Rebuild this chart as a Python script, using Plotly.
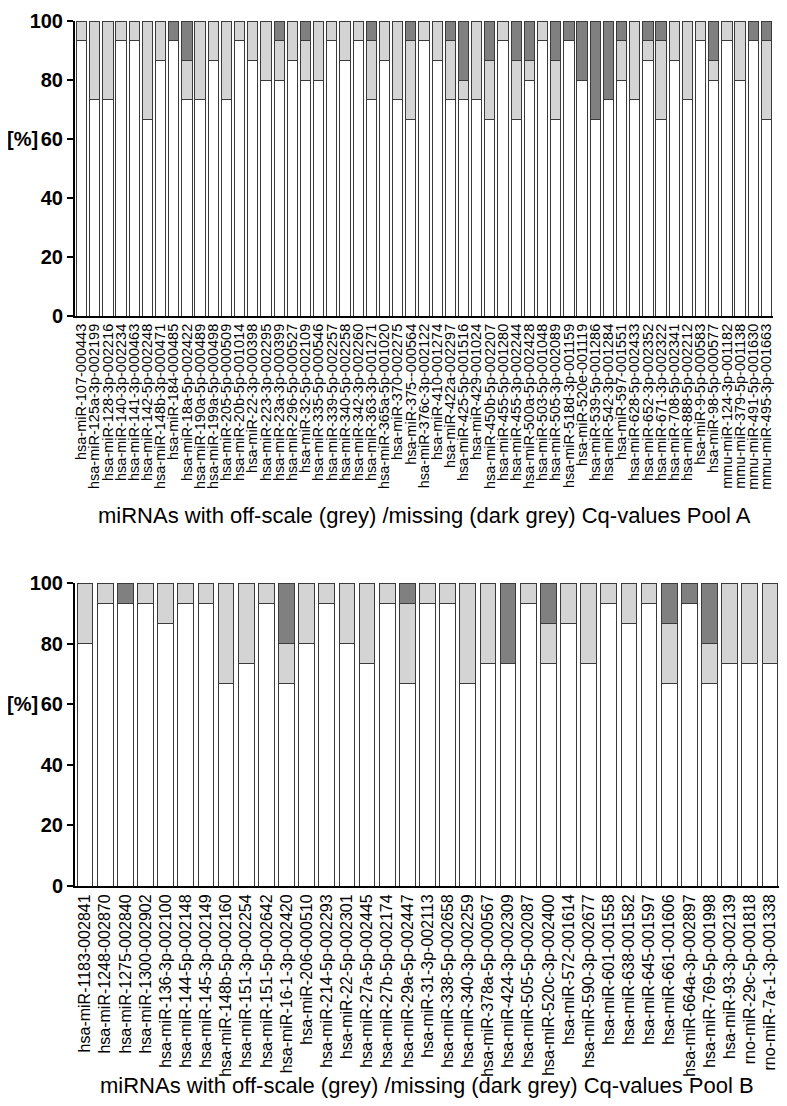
import plotly.graph_objects as go

# ---------------- Pool A ----------------
pool_a_labels = [
    "hsa-miR-107-000443", "hsa-miR-125a-3p-002199", "hsa-miR-128-3p-002216", "hsa-miR-140-3p-002234",
    "hsa-miR-141-3p-000463", "hsa-miR-142-5p-002248", "hsa-miR-148b-3p-000471", "hsa-miR-184-000485",
    "hsa-miR-18a-5p-002422", "hsa-miR-190a-5p-000489", "hsa-miR-199a-5p-000498", "hsa-miR-205-5p-000509",
    "hsa-miR-20b-5p-001014", "hsa-miR-22-3p-000398", "hsa-miR-223-3p-002295", "hsa-miR-23a-3p-000399",
    "hsa-miR-296-5p-000527", "hsa-miR-32-5p-002109", "hsa-miR-335-5p-000546", "hsa-miR-339-5p-002257",
    "hsa-miR-340-5p-002258", "hsa-miR-342-3p-002260", "hsa-miR-363-3p-001271", "hsa-miR-365a-5p-001020",
    "hsa-miR-370-002275", "hsa-miR-375--000564", "hsa-miR-376c-3p-002122", "hsa-miR-410-001274",
    "hsa-miR-422a-002297", "hsa-miR-425-5p-001516", "hsa-miR-429-001024", "hsa-miR-450b-5p-002207",
    "hsa-miR-455-5p-001280", "hsa-miR-455-3p-002244", "hsa-miR-500a-5p-002428", "hsa-miR-503-5p-001048",
    "hsa-miR-505-3p-002089", "hsa-miR-518d-3p-001159", "hsa-miR-520e-001119", "hsa-miR-539-5p-001286",
    "hsa-miR-542-3p-001284", "hsa-miR-597-001551", "hsa-miR-628-5p-002433", "hsa-miR-652-3p-002352",
    "hsa-miR-671-3p-002322", "hsa-miR-708-5p-002341", "hsa-miR-888-5p-002212", "hsa-miR-9-5p-000583",
    "hsa-miR-98-5p-000577", "mmu-miR-124-3p-001182", "mmu-miR-379-5p-001138", "mmu-miR-491-5p-001630",
    "mmu-miR-495-3p-001663",
]
pool_a_valid = [93.3, 73.3, 73.3, 93.3, 93.3, 66.7, 86.7, 93.3, 73.3, 73.3, 86.7, 73.3, 93.3, 86.7,
                80.0, 80.0, 86.7, 80.0, 80.0, 93.3, 86.7, 93.3, 73.3, 86.7, 73.3, 66.7, 93.3, 86.7,
                73.3, 73.3, 73.3, 66.7, 93.3, 66.7, 80.0, 93.3, 66.7, 93.3, 80.0, 66.7, 73.3, 80.0,
                73.3, 86.7, 66.7, 86.7, 73.3, 93.3, 80.0, 93.3, 80.0, 93.3, 66.7]
pool_a_offscale = [6.7, 26.7, 26.7, 6.7, 6.7, 33.3, 13.3, 0.0, 13.4, 26.7, 13.3, 26.7, 6.7, 13.3,
                   20.0, 13.3, 13.3, 13.3, 20.0, 6.7, 13.3, 6.7, 20.0, 13.3, 26.7, 26.6, 6.7, 13.3,
                   20.0, 6.7, 26.7, 20.0, 6.7, 20.0, 6.7, 6.7, 20.0, 0.0, 0.0, 0.0, 0.0, 13.3,
                   26.7, 6.6, 26.6, 13.3, 26.7, 6.7, 6.7, 6.7, 20.0, 0.0, 26.6]
pool_a_missing = [0.0, 0.0, 0.0, 0.0, 0.0, 0.0, 0.0, 6.7, 13.3, 0.0, 0.0, 0.0, 0.0, 0.0,
                  0.0, 6.7, 0.0, 6.7, 0.0, 0.0, 0.0, 0.0, 6.7, 0.0, 0.0, 6.7, 0.0, 0.0,
                  6.7, 20.0, 0.0, 13.3, 0.0, 13.3, 13.3, 0.0, 13.3, 6.7, 20.0, 33.3, 26.7, 6.7,
                  0.0, 6.7, 6.7, 0.0, 0.0, 0.0, 13.3, 0.0, 0.0, 6.7, 6.7]

# ---------------- Pool B ----------------
pool_b_labels = [
    "hsa-miR-1183-002841", "hsa-miR-1248-002870", "hsa-miR-1275-002840", "hsa-miR-1300-002902",
    "hsa-miR-136-3p-002100", "hsa-miR-144-5p-002148", "hsa-miR-145-3p-002149", "hsa-miR-148b-5p-002160",
    "hsa-miR-151-3p-002254", "hsa-miR-151-5p-002642", "hsa-miR-16-1-3p-002420", "hsa-miR-206-000510",
    "hsa-miR-214-5p-002293", "hsa-miR-22-5p-002301", "hsa-miR-27a-5p-002445", "hsa-miR-27b-5p-002174",
    "hsa-miR-29a-5p-002447", "hsa-miR-31-3p-002113", "hsa-miR-338-5p-002658", "hsa-miR-340-3p-002259",
    "hsa-miR-378a-5p-000567", "hsa-miR-424-3p-002309", "hsa-miR-505-5p-002087", "hsa-miR-520c-3p-002400",
    "hsa-miR-572-001614", "hsa-miR-590-3p-002677", "hsa-miR-601-001558", "hsa-miR-638-001582",
    "hsa-miR-645-001597", "hsa-miR-661-001606", "hsa-miR-664a-3p-002897", "hsa-miR-769-5p-001998",
    "hsa-miR-93-3p-002139", "rno-miR-29c-5p-001818", "rno-miR-7a-1-3p-001338",
]
pool_b_valid = [80.0, 93.3, 93.3, 93.3, 86.7, 93.3, 93.3, 66.7, 73.3, 93.3, 66.7, 80.0, 93.3, 80.0,
                73.3, 93.3, 66.7, 93.3, 93.3, 66.7, 73.3, 73.3, 93.3, 73.3, 86.7, 73.3, 93.3, 86.7,
                93.3, 66.7, 93.3, 66.7, 73.3, 73.3, 73.3]
pool_b_offscale = [20.0, 6.7, 0.0, 6.7, 13.3, 6.7, 6.7, 33.3, 26.7, 6.7, 13.3, 20.0, 6.7, 20.0,
                   26.7, 6.7, 26.6, 6.7, 6.7, 33.3, 26.7, 0.0, 6.7, 13.4, 13.3, 26.7, 6.7, 13.3,
                   6.7, 20.0, 0.0, 13.3, 26.7, 26.7, 26.7]
pool_b_missing = [0.0, 0.0, 6.7, 0.0, 0.0, 0.0, 0.0, 0.0, 0.0, 0.0, 20.0, 0.0, 0.0, 0.0,
                  0.0, 0.0, 6.7, 0.0, 0.0, 0.0, 0.0, 26.7, 0.0, 13.3, 0.0, 0.0, 0.0, 0.0,
                  0.0, 13.3, 6.7, 20.0, 0.0, 0.0, 0.0]

pool_a_title = "miRNAs with off-scale (grey) /missing (dark grey) Cq-values Pool A"
pool_b_title = "miRNAs with off-scale (grey) /missing (dark grey) Cq-values Pool B"
y_ticks = [0, 20, 40, 60, 80, 100]

# page is 787x1106; the browser's default 8px body margin offsets the figure
PAGE_W, PAGE_H, OFF = 787, 1106, 8
W, H = PAGE_W - OFF, PAGE_H - OFF
FONT = "Liberation Sans, Arial, sans-serif"
EDGE = "#3a3a3a"
COLORS = ["#ffffff", "#d4d4d4", "#808080"]

fig = go.Figure()


def add_pool(labels, segs, xa, ya):
    for vals, col in zip(segs, COLORS):
        fig.add_trace(go.Bar(
            x=labels, y=vals, xaxis=xa, yaxis=ya,
            marker=dict(color=col, line=dict(color=EDGE, width=1)),
            showlegend=False, hoverinfo="x+y",
        ))


add_pool(pool_a_labels, [pool_a_valid, pool_a_offscale, pool_a_missing], "x", "y")
add_pool(pool_b_labels, [pool_b_valid, pool_b_offscale, pool_b_missing], "x2", "y2")


def px_x(p):
    return (p - OFF) / W


def px_y(p):
    return 1 - (p - OFF) / H


def xaxis(labels, dom, anchor, fsize):
    return dict(domain=dom, anchor=anchor, showline=True, linecolor="black", linewidth=2,
                ticks="", showgrid=False, zeroline=False, tickangle=-90, type="category",
                tickmode="array", tickvals=labels, ticktext=labels, automargin=False,
                ticklabeloverflow="allow",
                range=[-0.5, len(labels) - 0.5],
                tickfont=dict(family=FONT, size=fsize, color="black"))


def yaxis(dom, anchor):
    return dict(domain=dom, anchor=anchor, range=[0, 100], tickmode="array", tickvals=y_ticks,
                showline=True, linecolor="black", linewidth=2, ticks="outside", ticklen=6,
                tickwidth=2, tickcolor="black", showgrid=False, zeroline=False, automargin=False,
                ticklabeloverflow="allow",
                tickfont=dict(family=FONT, size=20, color="black", weight="bold"))


fig.update_layout(
    width=W, height=H,
    margin=dict(l=0, r=0, t=0, b=0, autoexpand=False),
    paper_bgcolor="white", plot_bgcolor="white",
    barmode="stack", bargap=0.22,
    xaxis=xaxis(pool_a_labels, [px_x(75), px_x(773)], "y", 14.5),
    yaxis=yaxis([px_y(316), px_y(21)], "x"),
    xaxis2=xaxis(pool_b_labels, [px_x(75), px_x(780)], "y2", 16),
    yaxis2=yaxis([px_y(886), px_y(583)], "x2"),
    font=dict(family=FONT, color="black"),
)

annotations = [
    dict(text="[%]", xref="paper", yref="y", x=px_x(22), y=60, xanchor="center", yanchor="middle",
         showarrow=False, font=dict(family=FONT, size=20, color="black", weight="bold")),
    dict(text="[%]", xref="paper", yref="y2", x=px_x(22), y=60, xanchor="center", yanchor="middle",
         showarrow=False, font=dict(family=FONT, size=20, color="black", weight="bold")),
    dict(text=pool_a_title, xref="paper", yref="paper", x=px_x(424), y=px_y(516),
         xanchor="center", yanchor="middle", showarrow=False,
         font=dict(family=FONT, size=22, color="black")),
    dict(text=pool_b_title, xref="paper", yref="paper", x=px_x(427), y=px_y(1085),
         xanchor="center", yanchor="middle", showarrow=False,
         font=dict(family=FONT, size=22, color="black")),
]
fig.update_layout(annotations=annotations)

fig.write_html("out.html")
